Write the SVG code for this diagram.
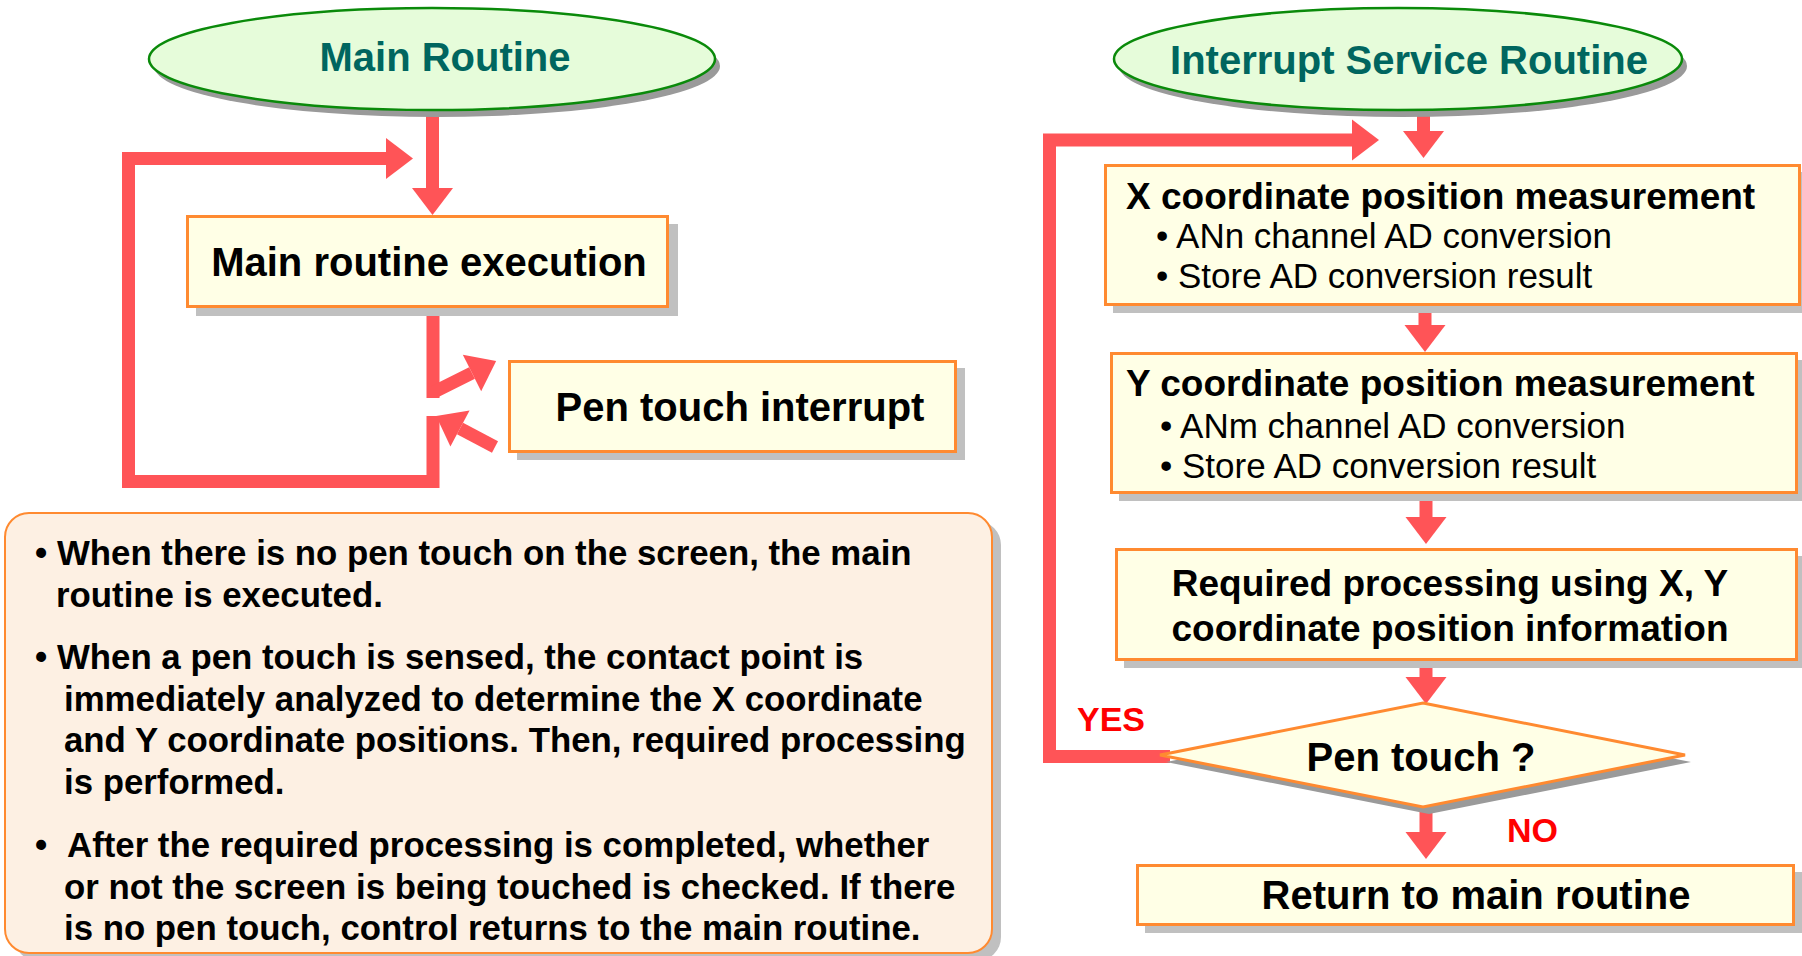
<svg xmlns="http://www.w3.org/2000/svg" width="1802" height="956" viewBox="0 0 1802 956">
  <defs>
    <style>
      .ell { fill: #E6FCDA; stroke: #0A8A0A; stroke-width: 2.5; }
      .ell-sh { fill: #9A9A9A; }
      .box { fill: #FFFFE6; stroke: #FF8A30; stroke-width: 3; }
      .sh { fill: #C0C0C0; }
      .note { fill: #FDF0E3; stroke: #FF8A30; stroke-width: 2; }
      .flow { fill: none; stroke: #FF5457; stroke-width: 13; stroke-linejoin: miter; }
      .title { font-family: "Liberation Sans", Arial, sans-serif; font-weight: bold; font-size: 40px; fill: #00665F; text-anchor: middle; }
      .big { font-family: "Liberation Sans", Arial, sans-serif; font-weight: bold; font-size: 40px; fill: #000; text-anchor: middle; }
      .head { font-family: "Liberation Sans", Arial, sans-serif; font-weight: bold; font-size: 37px; fill: #000; }
      .mid { text-anchor: middle; }
      .item { font-family: "Liberation Sans", Arial, sans-serif; font-size: 35px; fill: #000; }
      .txt { font-family: "Liberation Sans", Arial, sans-serif; font-weight: bold; font-size: 34.8px; fill: #000; }
      .lbl { font-family: "Liberation Sans", Arial, sans-serif; font-weight: bold; font-size: 34px; fill: #FF0000; }
    </style>
    <marker id="head" markerUnits="userSpaceOnUse" markerWidth="28" markerHeight="42" refX="0" refY="20.5" orient="auto" overflow="visible">
      <path d="M0,0 L27,20.5 L0,41 Z" fill="#FF5457"/>
    </marker>
  </defs>

  <rect width="1802" height="956" fill="#FFFFFF"/>

  <!-- connectors -->
  <g id="connectors">
    <!-- main routine side -->
    <line class="flow" x1="432.5" y1="110" x2="432.5" y2="188" marker-end="url(#head)"/>
    <polyline class="flow" points="433,307 433,398"/>
    <line class="flow" x1="434" y1="392" x2="472" y2="373" marker-end="url(#head)"/>
    <line class="flow" x1="495" y1="447" x2="460" y2="428.5" marker-end="url(#head)"/>
    <polyline class="flow" points="433,416 433,481.5 128.5,481.5 128.5,158.5 386,158.5" marker-end="url(#head)"/>

    <!-- interrupt service routine side -->
    <line class="flow" x1="1423.5" y1="110" x2="1423.5" y2="131" marker-end="url(#head)"/>
    <polyline class="flow" points="1170,756.5 1049.5,756.5 1049.5,140 1352,140" marker-end="url(#head)"/>
    <line class="flow" x1="1425" y1="305" x2="1425" y2="325" marker-end="url(#head)"/>
    <line class="flow" x1="1426" y1="493" x2="1426" y2="517" marker-end="url(#head)"/>
    <line class="flow" x1="1426" y1="660" x2="1426" y2="677" marker-end="url(#head)"/>
    <line class="flow" x1="1426" y1="807" x2="1426" y2="832" marker-end="url(#head)"/>
  </g>

  <!-- Main Routine terminator -->
  <g id="main-routine">
    <ellipse class="ell-sh" cx="437" cy="66" rx="283" ry="51"/>
    <ellipse class="ell" cx="432" cy="59" rx="283" ry="51"/>
    <text class="title" x="445" y="71">Main Routine</text>
  </g>

  <!-- Interrupt Service Routine terminator -->
  <g id="isr">
    <ellipse class="ell-sh" cx="1403" cy="66" rx="284" ry="51"/>
    <ellipse class="ell" cx="1398" cy="59" rx="284" ry="51"/>
    <text class="title" x="1409" y="74">Interrupt Service Routine</text>
  </g>

  <g id="main-exec">
    <rect class="sh" x="196" y="224" width="482" height="92"/>
    <rect class="box" x="187.5" y="216.5" width="480" height="90"/>
    <text class="big" x="429" y="276">Main routine execution</text>
  </g>

  <g id="pen-interrupt">
    <rect class="sh" x="517" y="368" width="448" height="92"/>
    <rect class="box" x="509.5" y="361.5" width="446" height="90"/>
    <text class="big" x="740" y="421">Pen touch interrupt</text>
  </g>

  <g id="notes">
    <rect class="sh" x="14" y="521" width="987" height="440" rx="24"/>
    <rect class="note" x="5" y="513" width="987" height="440" rx="24"/>
    <text class="txt" x="35" y="565">•</text>
    <text class="txt" x="57" y="565">When there is no pen touch on the screen, the main</text>
    <text class="txt" x="56" y="607">routine is executed.</text>
    <text class="txt" x="35" y="669">•</text>
    <text class="txt" x="57" y="669">When a pen touch is sensed, the contact point is</text>
    <text class="txt" x="64" y="711">immediately analyzed to determine the X coordinate</text>
    <text class="txt" x="64" y="752">and Y coordinate positions. Then, required processing</text>
    <text class="txt" x="64" y="794">is performed.</text>
    <text class="txt" x="35" y="857">•</text>
    <text class="txt" x="67" y="857">After the required processing is completed, whether</text>
    <text class="txt" x="64" y="899">or not the screen is being touched is checked. If there</text>
    <text class="txt" x="64" y="940">is no pen touch, control returns to the main routine.</text>
  </g>

  <g id="x-measure">
    <rect class="sh" x="1113" y="172" width="696" height="141"/>
    <rect class="box" x="1105.5" y="165.5" width="694" height="139"/>
    <text class="head" x="1126" y="209">X coordinate position measurement</text>
    <text class="item" x="1156" y="248">• ANn channel AD conversion</text>
    <text class="item" x="1156" y="288">• Store AD conversion result</text>
  </g>

  <g id="y-measure">
    <rect class="sh" x="1119" y="360" width="687" height="141"/>
    <rect class="box" x="1111.5" y="353.5" width="685" height="139"/>
    <text class="head" x="1126" y="396">Y coordinate position measurement</text>
    <text class="item" x="1160" y="438">• ANm channel AD conversion</text>
    <text class="item" x="1160" y="478">• Store AD conversion result</text>
  </g>

  <g id="processing">
    <rect class="sh" x="1124" y="556" width="682" height="112"/>
    <rect class="box" x="1116.5" y="549.5" width="680" height="110"/>
    <text class="head mid" x="1450" y="596">Required processing using X, Y</text>
    <text class="head mid" x="1450" y="641">coordinate position information</text>
  </g>

  <g id="pen-check">
    <polygon fill="#9A9A9A" points="1429,710 1691,762 1429,814 1166,762"/>
    <polygon class="box" points="1423,703 1685,755 1423,807 1160,755"/>
    <text class="big" x="1421" y="771">Pen touch ?</text>
  </g>

  <g id="labels">
    <text class="lbl" x="1077" y="731">YES</text>
    <text class="lbl" x="1507" y="842">NO</text>
  </g>

  <g id="return">
    <rect class="sh" x="1145" y="872" width="658" height="61"/>
    <rect class="box" x="1137.5" y="865.5" width="656" height="59"/>
    <text class="big" x="1476" y="909">Return to main routine</text>
  </g>
</svg>
